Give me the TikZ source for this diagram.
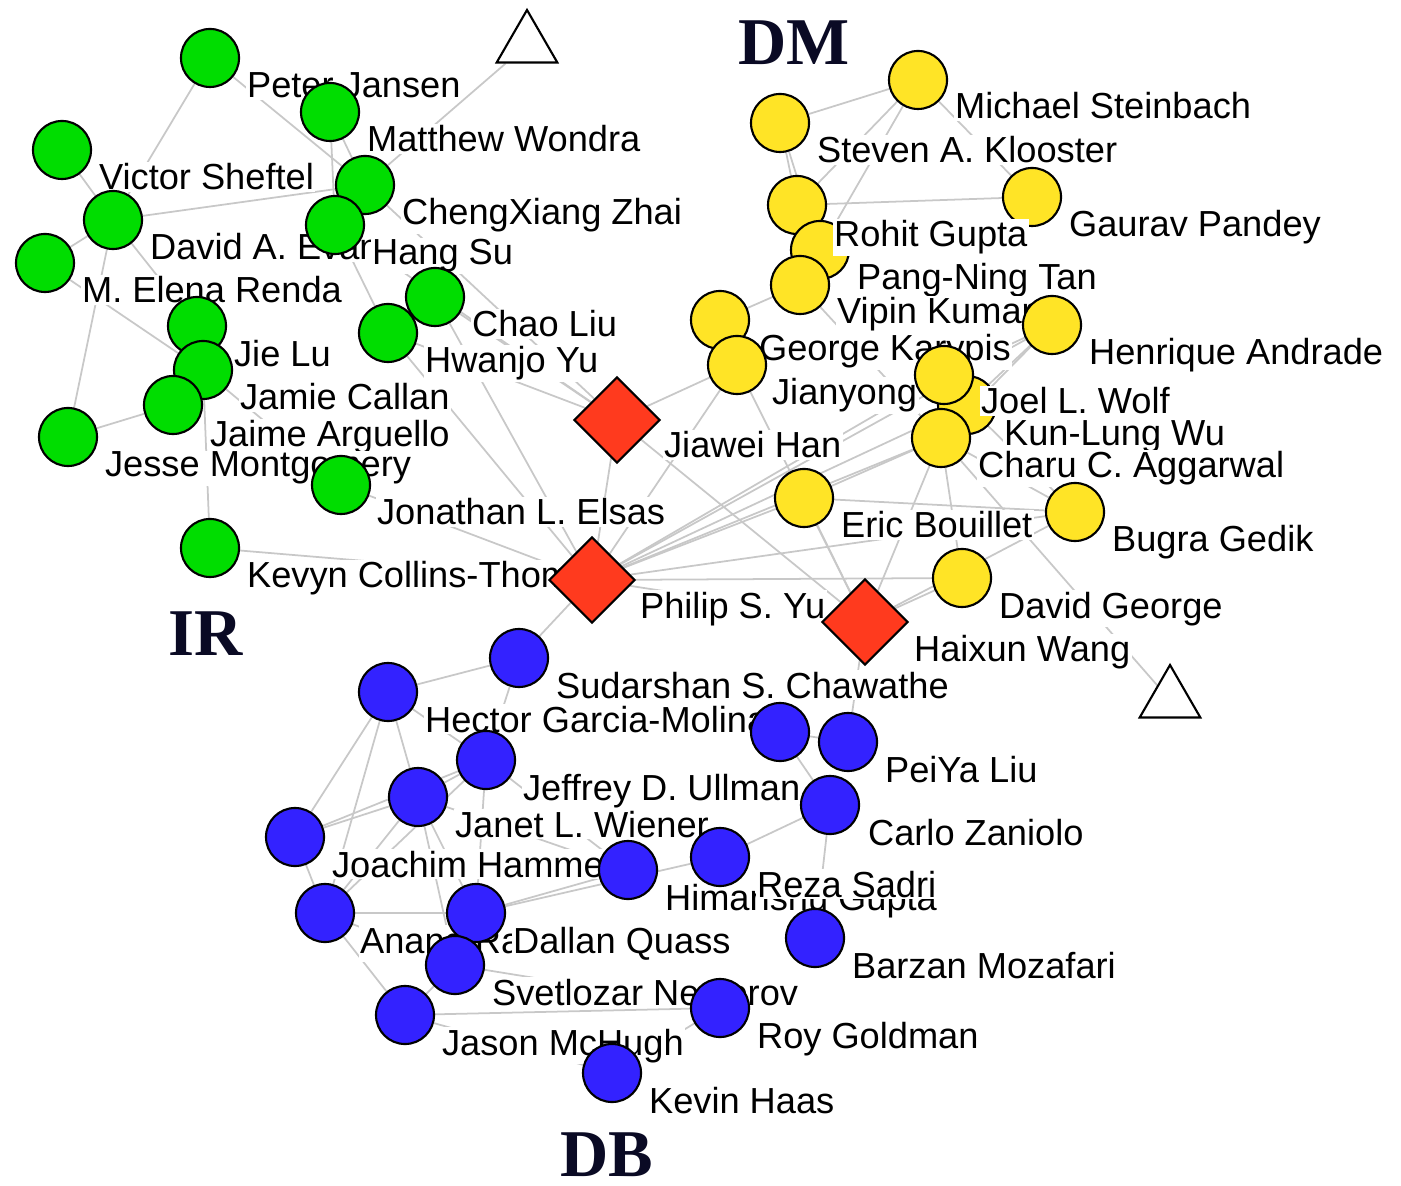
\documentclass[tikz,border=0pt]{standalone}
\usepackage{fontspec}
\setmainfont{Liberation Sans}
\newfontfamily\grpfont{Liberation Serif}
\usetikzlibrary{shapes.geometric,backgrounds}

\definecolor{irgreen}{RGB}{0,221,0}
\definecolor{dmyellow}{RGB}{255,228,38}
\definecolor{dbblue}{RGB}{51,34,255}
\definecolor{hubred}{RGB}{255,58,30}
\definecolor{linkgray}{RGB}{200,200,200}
\definecolor{grpnavy}{RGB}{10,10,36}

\begin{document}
\begin{tikzpicture}
  [x=0.01cm,y=-0.01cm,
   author/.style={circle,draw=black,line width=0.6pt,minimum size=0.58cm,inner sep=0pt},
   ir/.style={author,fill=irgreen},
   dm/.style={author,fill=dmyellow},
   db/.style={author,fill=dbblue},
   hub/.style={diamond,draw=black,line width=0.6pt,fill=hubred,minimum width=0.86cm,minimum height=0.86cm,inner sep=0pt},
   venue/.style={regular polygon,regular polygon sides=3,draw=black,line width=0.6pt,fill=white,minimum size=0.7cm,inner sep=0pt},
   lbl/.style={anchor=base west,fill=white,inner sep=0.4pt,font=\fontsize{10.3}{12}\selectfont},
   grp/.style={anchor=base west,inner sep=0pt,text=grpnavy,font=\grpfont\bfseries\fontsize{19}{22}\selectfont},
   link/.style={draw=linkgray,line width=0.5pt}]
  \useasboundingbox (0,0) rectangle (1401,1186);

  % venues
  \node[venue] (t1) at (527,45) {};
  \node[venue] (t2) at (1170,700) {};

  % IR
  \node[ir] (g1) at (210,58) {};
  \node[lbl] (g1l) at (245,98) {Peter Jansen};
  \node[ir] (g2) at (330,112) {};
  \node[lbl] (g2l) at (365,152) {Matthew Wondra};
  \node[ir] (g3) at (62,150) {};
  \node[lbl] (g3l) at (97,190) {Victor Sheftel};
  \node[ir] (g4) at (365,185) {};
  \node[lbl] (g4l) at (400,225) {ChengXiang Zhai};
  \node[ir] (g5) at (113,220) {};
  \node[lbl] (g5l) at (148,260) {David A. Evans};
  \node[ir] (g6) at (335,225) {};
  \node[lbl] (g6l) at (370,265) {Hang Su};
  \node[ir] (g7) at (45,263) {};
  \node[lbl] (g7l) at (80,303) {M. Elena Renda};
  \node[ir] (g8) at (435,297) {};
  \node[lbl] (g8l) at (470,337) {Chao Liu};
  \node[ir] (g9) at (388,333) {};
  \node[lbl] (g9l) at (423,373) {Hwanjo Yu};
  \node[ir] (g10) at (197,326) {};
  \node[lbl] (g10l) at (232,367) {Jie Lu};
  \node[ir] (g11) at (203,370) {};
  \node[lbl] (g11l) at (238,410) {Jamie Callan};
  \node[ir] (g12) at (173,405) {};
  \node[lbl] (g12l) at (208,447) {Jaime Arguello};
  \node[ir] (g13) at (68,437) {};
  \node[lbl] (g13l) at (103,477) {Jesse Montgomery};
  \node[ir] (g14) at (341,485) {};
  \node[lbl] (g14l) at (375,525) {Jonathan L. Elsas};
  \node[ir] (g15) at (210,548) {};
  \node[lbl] (g15l) at (245,588) {Kevyn Collins-Thom};

  % DM
  \node[dm] (y1) at (918,80) {};
  \node[lbl] (y1l) at (953,119) {Michael Steinbach};
  \node[dm] (y2) at (780,123) {};
  \node[lbl] (y2l) at (815,163) {Steven A. Klooster};
  \node[dm] (y3) at (1032,197) {};
  \node[lbl] (y3l) at (1067,237) {Gaurav Pandey};
  \node[dm] (y4) at (797,205) {};
  \node[dm] (y5) at (820,250) {};
  \node[lbl] (y4l) at (832,247) {Rohit Gupta};
  \node[dm] (y6) at (800,285) {};
  \node[lbl] (y5l) at (855,290) {Pang-Ning Tan};
  \node[lbl] (y6l) at (835,324) {Vipin Kumar};
  \node[dm] (y7) at (1052,325) {};
  \node[lbl] (y7l) at (1087,365) {Henrique Andrade};
  \node[dm] (y8) at (720,320) {};
  \node[lbl] (y8l) at (757,361) {George Karypis};
  \node[dm] (y9) at (737,365) {};
  \node[lbl] (y9l) at (770,405) {Jianyong};
  \node[dm] (y11) at (967,405) {};
  \node[dm] (y10) at (944,375) {};
  \node[lbl] (y10l) at (979,414) {Joel L. Wolf};
  \node[lbl] (y11l) at (1002,446) {Kun-Lung Wu};
  \node[dm] (y12) at (941,438) {};
  \node[lbl] (y12l) at (976,478) {Charu C. Aggarwal};
  \node[dm] (y13) at (804,498) {};
  \node[lbl] (y13l) at (839,538) {Eric Bouillet};
  \node[dm] (y14) at (1075,512) {};
  \node[lbl] (y14l) at (1110,552) {Bugra Gedik};
  \node[dm] (y15) at (962,578) {};
  \node[lbl] (y15l) at (997,618) {David George};

  % hubs
  \node[hub] (d1) at (617,420) {};
  \node[lbl] (d1l) at (662,458) {Jiawei Han};
  \node[lbl] (d2l) at (638,618) {Philip S. Yu};
  \node[hub] (d2) at (592,580) {};
  \node[hub] (d3) at (865,622) {};
  \node[lbl] (d3l) at (912,662) {Haixun Wang};

  % DB
  \node[db] (b1) at (519,658) {};
  \node[lbl] (b1l) at (554,698) {Sudarshan S. Chawathe};
  \node[db] (b2) at (388,692) {};
  \node[lbl] (b2l) at (423,732) {Hector Garcia-Molina};
  \node[db] (b3) at (780,732) {};
  \node[db] (b4) at (848,742) {};
  \node[lbl] (b4l) at (883,782) {PeiYa Liu};
  \node[db] (b5) at (486,760) {};
  \node[lbl] (b5l) at (521,800) {Jeffrey D. Ullman};
  \node[db] (b6) at (418,797) {};
  \node[lbl] (b6l) at (453,837) {Janet L. Wiener};
  \node[db] (b7) at (830,805) {};
  \node[lbl] (b7l) at (866,845) {Carlo Zaniolo};
  \node[db] (b8) at (295,837) {};
  \node[lbl] (b8l) at (330,877) {Joachim Hammer};
  \node[db] (b9) at (628,870) {};
  \node[lbl] (b9l) at (663,910) {Himanshu Gupta};
  \node[db] (b10) at (720,857) {};
  \node[lbl] (b10l) at (755,897) {Reza Sadri};
  \node[db] (b11) at (325,913) {};
  \node[lbl] (b11l) at (358,953) {Anand Rajaraman};
  \node[db] (b12) at (476,913) {};
  \node[lbl] (b12l) at (511,953) {Dallan Quass};
  \node[db] (b13) at (455,965) {};
  \node[lbl] (b13l) at (490,1005) {Svetlozar Nestorov};
  \node[db] (b14) at (815,938) {};
  \node[lbl] (b14l) at (850,978) {Barzan Mozafari};
  \node[db] (b15) at (405,1015) {};
  \node[lbl] (b15l) at (440,1055) {Jason McHugh};
  \node[db] (b16) at (720,1008) {};
  \node[lbl] (b16l) at (755,1048) {Roy Goldman};
  \node[db] (b17) at (612,1073) {};
  \node[lbl] (b17l) at (647,1113) {Kevin Haas};

  % areas
  \node[grp] (dm) at (738,65) {DM};
  \node[grp] (ir) at (168,655) {IR};
  \node[grp] (db) at (560,1176) {DB};

  \begin{scope}[on background layer]
  \draw[link] (g1) -- (g5);
  \draw[link] (g1) -- (g4);
  \draw[link] (g2) -- (g4);
  \draw[link] (g2) -- (g6);
  \draw[link] (t1) -- (g4);
  \draw[link] (g4) -- (g5);
  \draw[link] (g4) -- (g6);
  \draw[link] (g3) -- (g5);
  \draw[link] (g5) -- (g7);
  \draw[link] (g5) -- (g13);
  \draw[link] (g5) -- (g10);
  \draw[link] (g7) -- (g11);
  \draw[link] (g13) -- (g12);
  \draw[link] (g10) -- (g11);
  \draw[link] (g10) -- (g12);
  \draw[link] (g11) -- (g15);
  \draw[link] (g11) -- (g14);
  \draw[link] (g6) -- (g9);
  \draw[link] (g8) -- (g9);

  \draw[link] (g4) -- (d1);
  \draw[link] (g8) -- (d1);
  \draw[link] (g9) -- (d1);
  \draw[link] (g6) -- (d1);
  \draw[link] (g8) -- (d2);
  \draw[link] (g9) -- (d2);
  \draw[link] (g14) -- (d2);
  \draw[link] (g15) -- (d2);

  \draw[link] (y1) -- (y2);
  \draw[link] (y1) -- (y4);
  \draw[link] (y1) -- (y5);
  \draw[link] (y1) -- (y3);
  \draw[link] (y2) -- (y4);
  \draw[link] (y2) -- (y5);
  \draw[link] (y4) -- (y3);
  \draw[link] (y4) -- (y5);
  \draw[link] (y5) -- (y6);
  \draw[link] (y6) -- (y8);
  \draw[link] (y6) -- (y12);
  \draw[link] (y8) -- (y9);
  \draw[link] (y7) -- (y10);
  \draw[link] (y7) -- (y11);
  \draw[link] (y7) -- (y12);
  \draw[link] (y10) -- (y11);
  \draw[link] (y10) -- (y12);
  \draw[link] (y11) -- (y12);
  \draw[link] (y12) -- (y13);
  \draw[link] (y12) -- (y14);
  \draw[link] (y11) -- (y14);
  \draw[link] (y12) -- (y15);
  \draw[link] (y13) -- (y14);
  \draw[link] (y12) -- (t2);

  \draw[link] (d1) -- (y9);
  \draw[link] (d1) -- (d2);
  \draw[link] (d1) -- (d3);
  \draw[link] (y9) -- (d2);
  \draw[link] (y9) -- (d3);
  \draw[link] (d2) -- (y10);
  \draw[link] (d2) -- (y11);
  \draw[link] (d2) -- (y12);
  \draw[link] (d2) -- (y7);
  \draw[link] (d2) -- (y13);
  \draw[link] (d2) -- (y14);
  \draw[link] (d2) -- (y15);
  \draw[link] (d2) -- (d3);
  \draw[link] (d3) -- (y12);
  \draw[link] (d3) -- (y13);
  \draw[link] (d3) -- (y14);
  \draw[link] (d3) -- (y15);

  \draw[link] (d2) -- (b1);
  \draw[link] (d3) -- (b4);
  \draw[link] (b1) -- (b2);
  \draw[link] (b1) -- (b5);
  \draw[link] (b2) -- (b5);
  \draw[link] (b2) -- (b6);
  \draw[link] (b2) -- (b8);
  \draw[link] (b2) -- (b11);
  \draw[link] (b5) -- (b6);
  \draw[link] (b5) -- (b8);
  \draw[link] (b5) -- (b11);
  \draw[link] (b5) -- (b12);
  \draw[link] (b5) -- (b9);
  \draw[link] (b6) -- (b8);
  \draw[link] (b6) -- (b11);
  \draw[link] (b6) -- (b12);
  \draw[link] (b6) -- (b13);
  \draw[link] (b6) -- (b9);
  \draw[link] (b8) -- (b11);
  \draw[link] (b11) -- (b12);
  \draw[link] (b11) -- (b13);
  \draw[link] (b11) -- (b15);
  \draw[link] (b12) -- (b13);
  \draw[link] (b12) -- (b9);
  \draw[link] (b12) -- (b10);
  \draw[link] (b13) -- (b15);
  \draw[link] (b13) -- (b16);
  \draw[link] (b15) -- (b16);
  \draw[link] (b15) -- (b17);
  \draw[link] (b16) -- (b17);
  \draw[link] (b3) -- (b4);
  \draw[link] (b3) -- (b7);
  \draw[link] (b10) -- (b7);
  \draw[link] (b7) -- (b14);
  \end{scope}
\end{tikzpicture}
\end{document}
